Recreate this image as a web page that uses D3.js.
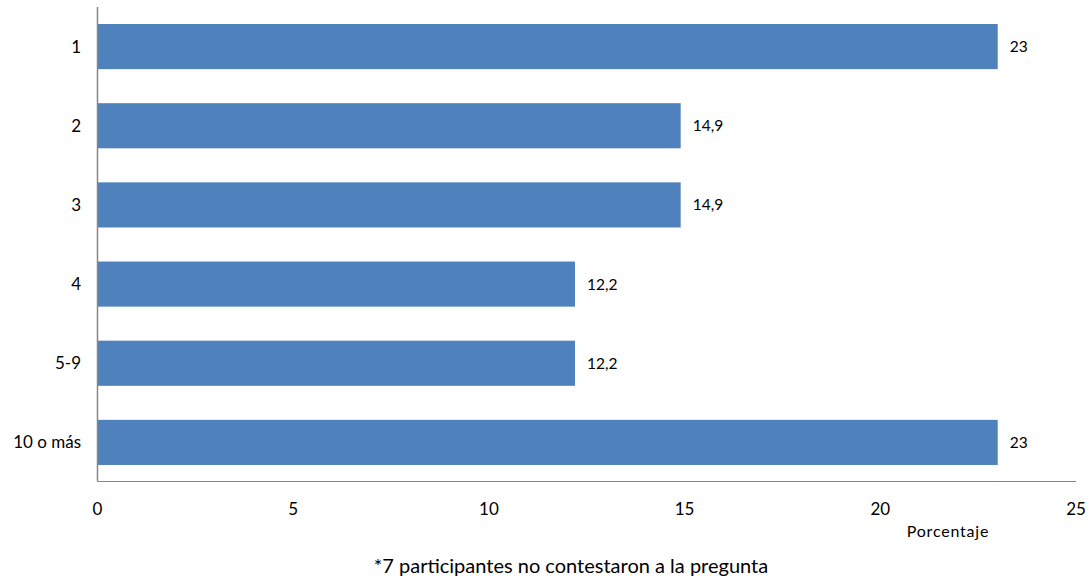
<!DOCTYPE html>
<html><head><meta charset="utf-8">
<script src="https://cdn.jsdelivr.net/npm/d3@7"></script>
<style>body{margin:0;background:#fff}svg{display:block}text{font-family:Lato,"Open Sans",sans-serif;fill:#000}</style>
</head><body>
<svg id="c" width="1092" height="581"></svg>
<script>
const categories = ["1","2","3","4","5-9","10 o más"];
const values = [23, 14.9, 14.9, 12.2, 12.2, 23];
const valueLabels = ["23","14,9","14,9","12,2","12,2","23"];
const xTicks = [0,5,10,15,20,25];

const svg = d3.select("#c");
const x = d3.scaleLinear().domain([0,25]).range([97.5,1076]);
const y = d3.scaleBand().domain(categories).range([7,482]).paddingInner(0.43).paddingOuter(0.215);

svg.selectAll("rect.bar").data(values).join("rect")
  .attr("x", x(0)).attr("y",(d,i)=>y(categories[i]))
  .attr("width", d=>x(d)-x(0)).attr("height", y.bandwidth())
  .attr("fill","#4F81BD");

svg.append("line").attr("x1",x(0)).attr("x2",x(0)).attr("y1",7).attr("y2",481.5).attr("stroke","#868686").attr("stroke-width",1.5);
svg.append("line").attr("x1",x(0)).attr("x2",1076).attr("y1",481.5).attr("y2",481.5).attr("stroke","#868686").attr("stroke-width",1);

svg.selectAll("text.cat").data(categories).join("text")
  .attr("x",81).attr("y",d=>y(d)+y.bandwidth()/2).attr("dy","0.35em")
  .attr("text-anchor","end").attr("font-size",17).text(d=>d);

svg.selectAll("text.val").data(values).join("text")
  .attr("x",d=>x(d)+12).attr("y",(d,i)=>y(categories[i])+y.bandwidth()/2).attr("dy","0.35em")
  .attr("font-size",15.5).text((d,i)=>valueLabels[i]);

svg.selectAll("text.xt").data(xTicks).join("text")
  .attr("x",d=>x(d)).attr("y",509).attr("dy","0.35em")
  .attr("text-anchor","middle").attr("font-size",17).text(d=>d);

svg.append("text").attr("x",948).attr("y",531).attr("dy","0.35em").attr("text-anchor","middle").attr("font-size",16).attr("letter-spacing","0.8px").text("Porcentaje");
svg.append("text").attr("x",571).attr("y",566).attr("dy","0.35em").attr("text-anchor","middle").attr("font-size",20).text("*7 participantes no contestaron a la pregunta");
</script>
</body></html>
